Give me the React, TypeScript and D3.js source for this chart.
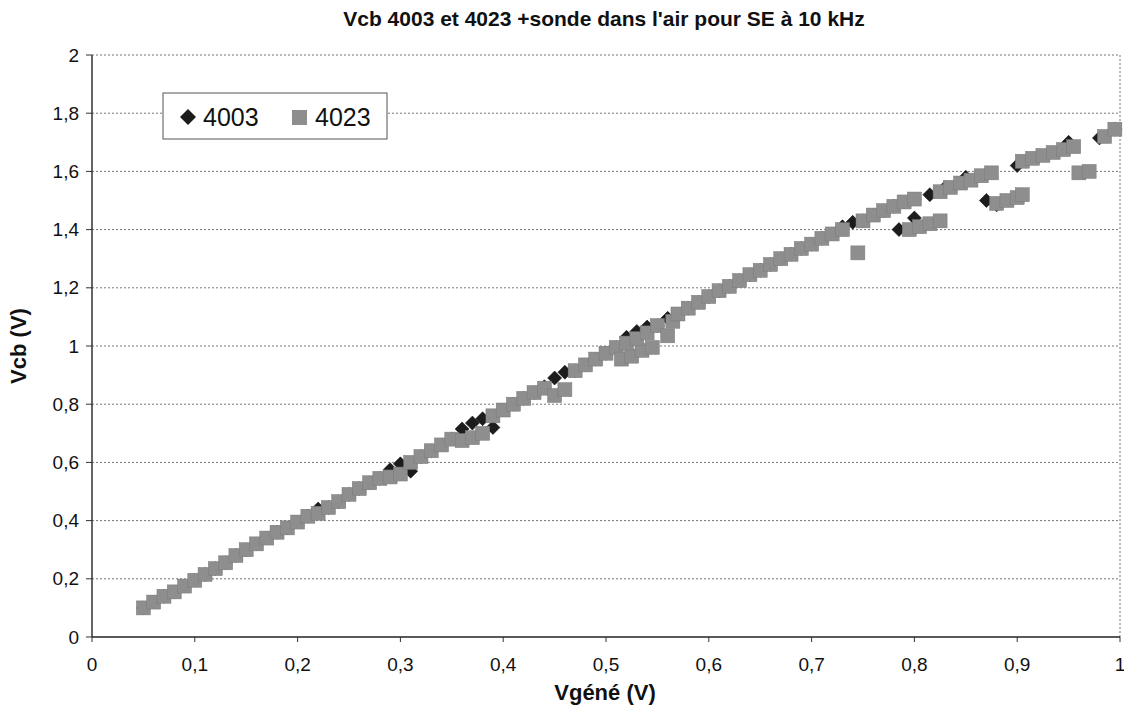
import React from "react";
import * as d3 from "d3";

// ---- data ----
const title = "Vcb 4003 et 4023 +sonde dans l'air pour SE à 10 kHz";
const xLabel = "Vgéné (V)";
const yLabel = "Vcb (V)";
const seriesNames = ["4003", "4023"];
const xTicks = [0, 0.1, 0.2, 0.3, 0.4, 0.5, 0.6, 0.7, 0.8, 0.9, 1];
const yTicks = [0, 0.2, 0.4, 0.6, 0.8, 1, 1.2, 1.4, 1.6, 1.8, 2];

const vgene4003 = [
  0.05, 0.06, 0.07, 0.08, 0.09, 0.1, 0.11, 0.12, 0.13, 0.14, 0.15, 0.16, 0.17, 0.18, 0.19, 0.2,
  0.21, 0.22, 0.23, 0.24, 0.25, 0.26, 0.27, 0.28, 0.29, 0.3, 0.31, 0.32, 0.33, 0.34, 0.35, 0.36,
  0.37, 0.38, 0.39, 0.4, 0.41, 0.42, 0.43, 0.44, 0.45, 0.46, 0.47, 0.48, 0.49, 0.5, 0.51, 0.52,
  0.53, 0.54, 0.55, 0.56, 0.57, 0.58, 0.59, 0.6, 0.61, 0.62, 0.63, 0.64, 0.65, 0.66, 0.67, 0.68,
  0.69, 0.7, 0.71, 0.72, 0.73, 0.74, 0.75, 0.76, 0.77, 0.78, 0.79, 0.8,
  0.785, 0.8, 0.815, 0.83, 0.85, 0.87, 0.88, 0.9, 0.92, 0.95, 0.98, 0.995,
];
const vcb4003 = [
  0.1, 0.12, 0.14, 0.155, 0.175, 0.195, 0.215, 0.235, 0.255, 0.28, 0.3, 0.32, 0.34, 0.36, 0.375, 0.395,
  0.415, 0.44, 0.445, 0.465, 0.49, 0.51, 0.53, 0.545, 0.575, 0.595, 0.57, 0.62, 0.64, 0.66, 0.68, 0.715,
  0.735, 0.75, 0.72, 0.78, 0.8, 0.82, 0.84, 0.86, 0.89, 0.91, 0.915, 0.935, 0.955, 0.975, 0.995, 1.03,
  1.05, 1.065, 1.07, 1.095, 1.11, 1.13, 1.15, 1.17, 1.19, 1.205, 1.225, 1.245, 1.26, 1.28, 1.3, 1.315,
  1.335, 1.35, 1.37, 1.385, 1.41, 1.425, 1.43, 1.45, 1.465, 1.48, 1.495, 1.505,
  1.4, 1.44, 1.52, 1.545, 1.58, 1.5, 1.485, 1.62, 1.65, 1.7, 1.715, 1.745,
];

const vgene4023 = [
  0.05, 0.06, 0.07, 0.08, 0.09, 0.1, 0.11, 0.12, 0.13, 0.14, 0.15, 0.16, 0.17, 0.18, 0.19, 0.2,
  0.21, 0.22, 0.23, 0.24, 0.25, 0.26, 0.27, 0.28, 0.29, 0.3, 0.31, 0.32, 0.33, 0.34, 0.35, 0.36,
  0.37, 0.38, 0.39, 0.4, 0.41, 0.42, 0.43, 0.44, 0.45, 0.46, 0.47, 0.48, 0.49, 0.5, 0.51, 0.515,
  0.525, 0.535, 0.545, 0.52, 0.53, 0.54, 0.55, 0.56, 0.565, 0.57, 0.58, 0.59, 0.6, 0.61, 0.62, 0.63,
  0.64, 0.65, 0.66, 0.67, 0.68, 0.69, 0.7, 0.71, 0.72, 0.73, 0.745, 0.75, 0.76, 0.77, 0.78, 0.79,
  0.8, 0.795, 0.805, 0.815, 0.825, 0.825, 0.835, 0.845, 0.855, 0.865, 0.875, 0.88, 0.89, 0.9, 0.905,
  0.905, 0.915, 0.925, 0.935, 0.945, 0.955, 0.96, 0.97, 0.985, 0.995,
];
const vcb4023 = [
  0.1, 0.12, 0.14, 0.155, 0.175, 0.195, 0.215, 0.235, 0.255, 0.28, 0.3, 0.32, 0.34, 0.36, 0.375, 0.395,
  0.415, 0.425, 0.445, 0.465, 0.49, 0.51, 0.53, 0.545, 0.55, 0.56, 0.6, 0.62, 0.64, 0.66, 0.68, 0.675,
  0.685, 0.7, 0.76, 0.78, 0.8, 0.82, 0.84, 0.855, 0.83, 0.85, 0.915, 0.935, 0.955, 0.975, 0.995, 0.955,
  0.965, 0.985, 0.995, 1.01, 1.025, 1.045, 1.07, 1.035, 1.085, 1.11, 1.13, 1.15, 1.17, 1.19, 1.205, 1.225,
  1.245, 1.26, 1.28, 1.3, 1.315, 1.335, 1.35, 1.37, 1.385, 1.4, 1.32, 1.43, 1.45, 1.465, 1.48, 1.495,
  1.505, 1.4, 1.41, 1.42, 1.43, 1.53, 1.545, 1.56, 1.57, 1.585, 1.595, 1.49, 1.5, 1.51, 1.52,
  1.635, 1.645, 1.655, 1.665, 1.675, 1.685, 1.595, 1.6, 1.72, 1.745,
];

const W = 1124;
const H = 718;
const margin = { left: 92, right: 4, top: 55, bottom: 81 };
const FONT = "'Liberation Sans', Arial, sans-serif";

export default function App() {
  const x = d3.scaleLinear().domain([0, 1]).range([margin.left, W - margin.right]);
  const y = d3.scaleLinear().domain([0, 2]).range([H - margin.bottom, margin.top]);
  const fmt = (v: number) => String(+v.toFixed(1)).replace(".", ",");

  const pts4003 = vgene4003.map((v, i) => [x(v), y(vcb4003[i])]);
  const pts4023 = vgene4023.map((v, i) => [x(v), y(vcb4023[i])]);
  const sq = 14;
  const dia = 7;
  const diamondPath = (cx: number, cy: number, r: number) =>
    `M${cx},${cy - r}L${cx + r},${cy}L${cx},${cy + r}L${cx - r},${cy}Z`;

  const x0 = x(0), x1 = x(1), y0 = y(0), y1 = y(2);

  return (
    <svg width={W} height={H} style={{ position: "absolute", left: 0, top: 0, background: "#fff" }}>
      <rect x={0} y={0} width={W} height={H} fill="#fff" />
      {/* title */}
      <text x={604} y={26} textAnchor="middle" fontFamily={FONT} fontWeight="bold" fontSize={21} fill="#111">
        {title}
      </text>
      {/* gridlines */}
      {yTicks.filter((t) => t > 0).map((t) => (
        <line key={"g" + t} x1={x0} x2={x1} y1={y(t)} y2={y(t)} stroke="#777" strokeWidth={1} strokeDasharray="2,2" />
      ))}
      <line x1={x1} x2={x1} y1={y1} y2={y0} stroke="#777" strokeWidth={1} strokeDasharray="2,2" />
      {/* axes */}
      <line x1={x0} x2={x0} y1={y1} y2={y0} stroke="#333" strokeWidth={1.5} />
      <line x1={x0} x2={x1} y1={y0} y2={y0} stroke="#222" strokeWidth={1.5} />
      {yTicks.map((t) => (
        <g key={"yt" + t}>
          <line x1={x0 - 6} x2={x0} y1={y(t)} y2={y(t)} stroke="#333" strokeWidth={1} />
          <text x={x0 - 13} y={y(t)} dy="0.35em" textAnchor="end" fontFamily={FONT} fontSize={19} fill="#111">
            {fmt(t)}
          </text>
        </g>
      ))}
      {xTicks.map((t) => (
        <g key={"xt" + t}>
          <line x1={x(t)} x2={x(t)} y1={y0} y2={y0 + 5} stroke="#333" strokeWidth={1} />
          <text x={x(t)} y={y0 + 34} textAnchor="middle" fontFamily={FONT} fontSize={19} fill="#111">
            {fmt(t)}
          </text>
        </g>
      ))}
      {/* axis titles */}
      <text x={605} y={700} textAnchor="middle" fontFamily={FONT} fontWeight="bold" fontSize={22} fill="#111">
        {xLabel}
      </text>
      <text transform={`translate(26,${(y0 + y1) / 2}) rotate(-90)`} textAnchor="middle" fontFamily={FONT} fontWeight="bold" fontSize={22} fill="#111">
        {yLabel}
      </text>
      {/* series 4003: dark diamonds */}
      <g>
        {pts4003.map(([cx, cy], i) => (
          <path key={"d" + i} d={diamondPath(cx, cy, dia)} fill="#1c1c1c" stroke="#000" strokeWidth={0.5} />
        ))}
      </g>
      {/* series 4023: gray squares */}
      <g>
        {pts4023.map(([cx, cy], i) => (
          <rect key={"s" + i} x={cx - sq / 2} y={cy - sq / 2} width={sq} height={sq} fill="#8e8e8e" stroke="#7a7a7a" strokeWidth={0.5} />
        ))}
      </g>
      {/* legend */}
      <rect x={163} y={93} width={224} height={46} fill="#fff" stroke="#555" strokeWidth={1} />
      <path d={diamondPath(188, 117, 8)} fill="#1c1c1c" />
      <text x={203} y={126} fontFamily={FONT} fontSize={25} fill="#111">{seriesNames[0]}</text>
      <rect x={292} y={110} width={15} height={15} fill="#8e8e8e" />
      <text x={315} y={126} fontFamily={FONT} fontSize={25} fill="#111">{seriesNames[1]}</text>
    </svg>
  );
}
